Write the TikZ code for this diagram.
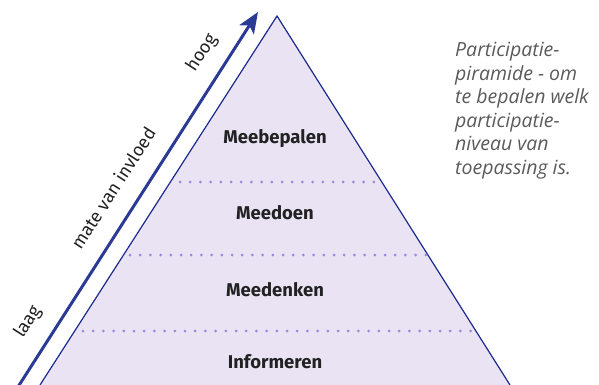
\documentclass[tikz,border=0pt]{standalone}
\usepackage{fontspec}
\setmainfont{Fira Sans}
\newfontfamily\notefont{Open Sans}
\usetikzlibrary{arrows.meta}
\definecolor{pyrfill}{HTML}{E9E3F4}
\definecolor{pyredge}{HTML}{1B2A8C}
\definecolor{arrcol}{HTML}{2B3A94}
\definecolor{dotcol}{HTML}{9B87DD}
\definecolor{lbltext}{HTML}{222222}
\definecolor{notetext}{HTML}{5A5A5A}
\tikzset{
  level/.style={font=\fontsize{18.5}{22}\selectfont\bfseries, text=lbltext, inner sep=0pt},
  axislbl/.style={font=\fontsize{18}{21}\selectfont, text=lbltext, rotate=57.25, inner sep=0pt},
  dotline/.style={dotcol, line width=3pt, line cap=round, dash pattern=on 0pt off 10.2pt},
}
\begin{document}
\begin{tikzpicture}[x=1pt,y=-1pt]
\useasboundingbox (0,0) rectangle (599,385);
\begin{scope}
\clip (0,0) rectangle (599,385);
% pyramid
\coordinate (apex) at (277,16);
\coordinate (bl) at (40,385);
\coordinate (br) at (510,385);
\fill[pyrfill] (bl) -- (apex) -- (br) -- cycle;
\draw[pyredge, line width=1.2pt, line join=miter] (bl) -- (apex) -- (br);
% dotted separators
\coordinate (d1a) at (180,182); \coordinate (d1b) at (375,182);
\coordinate (d2a) at (130,255); \coordinate (d2b) at (427,255);
\coordinate (d3a) at (83,331);  \coordinate (d3b) at (474,331);
\draw[dotline] (d1a) -- (d1b);
\draw[dotline] (d2a) -- (d2b);
\draw[dotline] (d3a) -- (d3b);
% arrow
\coordinate (arrS) at (16,390);
\coordinate (arrE) at (258,12);
\draw[arrcol, line width=3pt, -{Stealth[length=21pt,width=17pt,inset=5pt]}] (arrS) -- (arrE);
\end{scope}
% level labels
\node[level] (l1) at (275,138.5) {Meebepalen};
\node[level] (l2) at (275,213) {Meedoen};
\node[level] (l3) at (275,290) {Meedenken};
\node[level] (l4) at (275,362) {Informeren};
% axis labels
\node[axislbl] (hoog) at (202,53) {hoog};
\node[axislbl] (mvi) at (113,188) {mate van invloed};
\node[axislbl] (laag) at (28,322) {laag};
% note
\node[anchor=north west, inner sep=0pt, align=left, text=notetext,
      font=\notefont\itshape\fontsize{19.5}{23.5}\selectfont] (note) at (455,42)
  {Participatie-\\piramide - om\\te bepalen welk\\participatie-\\niveau van\\toepassing is.};
\end{tikzpicture}
\end{document}
